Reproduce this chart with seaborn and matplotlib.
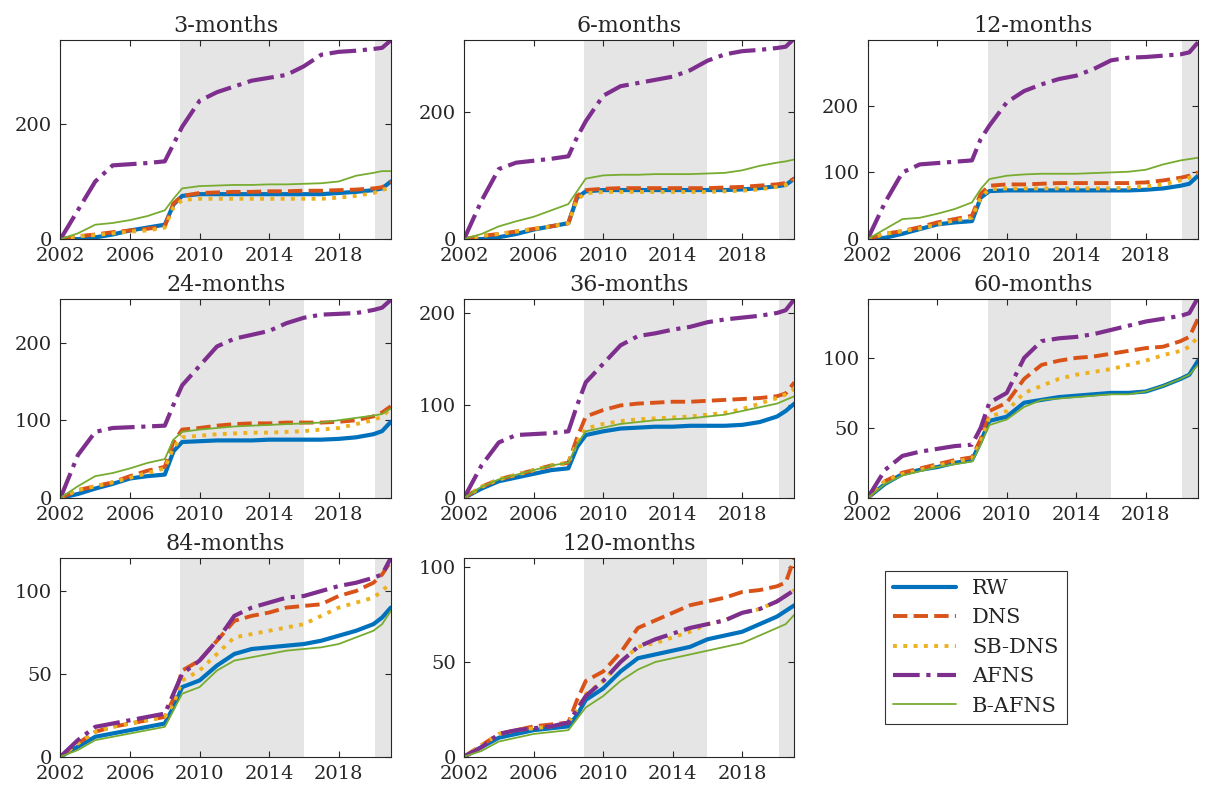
import numpy as np
import pandas as pd
import matplotlib.pyplot as plt
import seaborn as sns

# time grid (decimal years) shared by all series
years = [2002, 2003, 2004, 2005, 2006, 2007, 2008, 2008.5, 2009, 2010, 2011,
         2012, 2013, 2014, 2015, 2016, 2017, 2018, 2019, 2020, 2020.5, 2021]

models = ["RW", "DNS", "SB-DNS", "AFNS", "B-AFNS"]
horizons = ["3-months", "6-months", "12-months", "24-months",
            "36-months", "60-months", "84-months", "120-months"]

# cumulative values
rw = {
    "3-months":  [0,0,3,8,15,20,25,60,75,78,78,78,78,78,78,78,78,80,82,85,88,100],
    "6-months":  [0,0,3,8,15,20,25,65,75,77,77,77,77,77,77,77,77,78,80,83,85,95],
    "12-months": [0,2,8,15,22,25,27,62,72,73,73,73,73,73,73,73,73,74,76,80,83,95],
    "24-months": [0,5,12,18,25,28,30,60,72,73,74,74,74,75,75,75,75,76,78,82,86,98],
    "36-months": [0,10,18,22,26,30,32,55,68,72,75,76,77,77,78,78,78,79,82,88,94,102],
    "60-months": [0,10,17,20,22,25,27,40,55,58,68,70,72,73,74,75,75,76,80,85,88,98],
    "84-months": [0,6,12,14,16,18,20,30,42,46,55,62,65,66,67,68,70,73,76,80,84,90],
    "120-months":[0,5,10,12,14,15,16,22,30,36,45,52,54,56,58,62,64,66,70,74,77,80],
}
dns = {
    "3-months":  [0,5,8,12,15,18,22,62,75,80,81,82,82,83,83,84,84,85,86,88,90,100],
    "6-months":  [0,5,8,12,16,20,25,68,77,79,80,80,80,80,80,80,81,82,84,86,88,95],
    "12-months": [0,8,12,18,25,30,35,68,80,82,82,83,84,84,84,84,84,85,88,92,95,100],
    "24-months": [0,10,15,20,28,35,40,72,88,90,93,95,96,96,97,97,97,98,100,105,110,118],
    "36-months": [0,12,20,25,30,35,38,65,88,95,100,102,103,104,104,105,106,107,108,110,113,125],
    "60-months": [0,12,18,21,24,27,29,42,62,68,85,95,98,100,101,103,105,107,108,112,115,128],
    "84-months": [0,8,15,18,20,22,24,35,52,58,70,82,85,87,90,91,92,97,100,105,110,118],
    "120-months":[0,6,12,14,16,17,18,30,40,45,55,68,72,76,80,82,84,87,88,90,92,105],
}
sbdns = {
    "3-months":  [0,5,7,10,13,15,20,55,68,70,70,70,70,70,70,70,70,72,75,80,85,90],
    "6-months":  [0,5,8,12,16,20,25,62,72,74,74,74,74,74,74,74,75,76,78,82,85,92],
    "12-months": [0,8,12,16,22,28,32,62,75,76,76,76,76,76,76,76,77,79,82,88,92,98],
    "24-months": [0,10,15,20,26,32,38,65,78,80,82,83,84,84,85,86,88,90,95,100,105,115],
    "36-months": [0,12,20,25,30,35,38,60,75,80,83,85,86,87,88,90,92,96,102,108,112,118],
    "60-months": [0,12,17,20,23,26,28,40,58,62,75,80,85,88,90,92,95,98,102,105,108,115],
    "84-months": [0,8,15,18,20,22,24,32,46,52,62,72,74,76,78,80,85,90,93,96,100,105],
    "120-months":[0,6,12,14,15,16,18,25,33,40,50,58,60,63,66,70,72,76,78,82,85,88],
}
afns = {
    "3-months":  [0,50,100,128,130,132,135,165,195,240,255,265,275,280,285,300,320,325,327,330,332,345],
    "6-months":  [0,60,110,120,123,126,130,160,185,225,240,245,250,255,265,280,290,295,297,300,302,315],
    "12-months": [0,55,100,112,114,116,118,150,170,205,222,232,240,245,255,268,272,273,275,277,280,295],
    "24-months": [0,55,85,90,91,92,93,120,145,170,195,205,210,215,225,232,236,237,238,242,245,255],
    "36-months": [0,35,60,68,69,70,72,100,125,145,165,175,178,182,185,190,193,195,197,200,203,215],
    "60-months": [0,20,30,33,35,37,38,50,68,75,100,112,114,115,117,120,123,126,128,130,132,143],
    "84-months": [0,10,18,20,22,24,26,38,50,58,70,85,90,93,96,97,100,103,105,108,110,120],
    "120-months":[0,5,12,14,15,16,18,25,32,40,50,58,62,65,68,70,72,76,78,82,85,88],
}
bafns = {
    "3-months":  [0,10,25,28,33,40,50,70,88,92,93,94,94,95,95,96,97,100,110,115,118,118],
    "6-months":  [0,8,20,28,35,45,55,75,95,100,101,101,102,102,102,103,104,108,115,120,122,125],
    "12-months": [0,15,30,32,38,45,55,75,90,95,97,98,98,98,99,100,101,104,112,118,120,122],
    "24-months": [0,15,28,32,38,45,50,75,85,88,90,92,93,94,95,96,97,100,103,106,108,115],
    "36-months": [0,12,20,25,30,35,38,58,72,76,80,82,84,85,86,88,90,94,98,102,106,110],
    "60-months": [0,10,16,19,22,24,26,38,52,56,65,70,71,72,73,74,74,76,80,85,88,95],
    "84-months": [0,4,10,12,14,16,18,28,38,42,52,58,60,62,64,65,66,68,72,76,80,88],
    "120-months":[0,3,8,10,12,13,14,20,26,32,40,46,50,52,54,56,58,60,64,68,70,75],
}
series = {"RW": rw, "DNS": dns, "SB-DNS": sbdns, "AFNS": afns, "B-AFNS": bafns}

ylims = {"3-months": 345, "6-months": 312, "12-months": 298, "24-months": 256,
         "36-months": 215, "60-months": 142, "84-months": 120, "120-months": 105}
yticks = {"3-months": [0, 200], "6-months": [0, 200], "12-months": [0, 100, 200],
          "24-months": [0, 100, 200], "36-months": [0, 100, 200],
          "60-months": [0, 50, 100], "84-months": [0, 50, 100], "120-months": [0, 50, 100]}

palette = {"RW": "#0072BD", "DNS": "#D95319", "SB-DNS": "#EDB120",
           "AFNS": "#7E2F8E", "B-AFNS": "#77AC30"}
styles = {"RW": ("-", 3.0), "DNS": ("--", 2.8), "SB-DNS": (":", 2.8),
          "AFNS": ("-.", 3.0), "B-AFNS": ("-", 1.3)}

sns.set_style("ticks")
plt.rcParams["font.family"] = ["DejaVu Serif"]
plt.rcParams["xtick.direction"] = "in"
plt.rcParams["ytick.direction"] = "in"

fig, axes = plt.subplots(3, 3, figsize=(12.13, 7.98), dpi=100)
axes = axes.ravel()

for ax, h in zip(axes, horizons):
    rows = []
    for m in models:
        for t, v in zip(years, series[m][h]):
            rows.append({"year": t, "value": v, "model": m})
    df = pd.DataFrame(rows)
    ax.axvspan(2008.9, 2016.0, color="#e5e5e5", lw=0, zorder=0)
    ax.axvspan(2020.1, 2021.0, color="#e5e5e5", lw=0, zorder=0)
    for m in models:
        ls, lw = styles[m]
        sns.lineplot(data=df[df["model"] == m], x="year", y="value", ax=ax,
                     color=palette[m], linestyle=ls, linewidth=lw, label=m,
                     legend=False)
    ax.set_xlim(2002, 2021)
    ax.set_ylim(0, ylims[h])
    ax.set_xticks([2002, 2006, 2010, 2014, 2018])
    ax.set_yticks(yticks[h])
    ax.tick_params(labelsize=14, length=4, top=True, right=True)
    ax.tick_params(axis="x", pad=6)
    ax.tick_params(axis="y", pad=6)
    ax.set_xlabel("")
    ax.set_ylabel("")
    ax.set_title(h, fontsize=16)
    for s in ax.spines.values():
        s.set_visible(True)
        s.set_linewidth(0.8)

handles, labels = axes[0].get_legend_handles_labels()
axes[8].axis("off")
leg = axes[8].legend(handles, labels, loc="center left", bbox_to_anchor=(0.02, 0.55),
                     fontsize=15, frameon=True, fancybox=False, edgecolor="black",
                     handlelength=3)
leg.get_frame().set_linewidth(0.8)

plt.tight_layout(h_pad=0.6, w_pad=2.0)
plt.savefig("out.png", dpi=100)
